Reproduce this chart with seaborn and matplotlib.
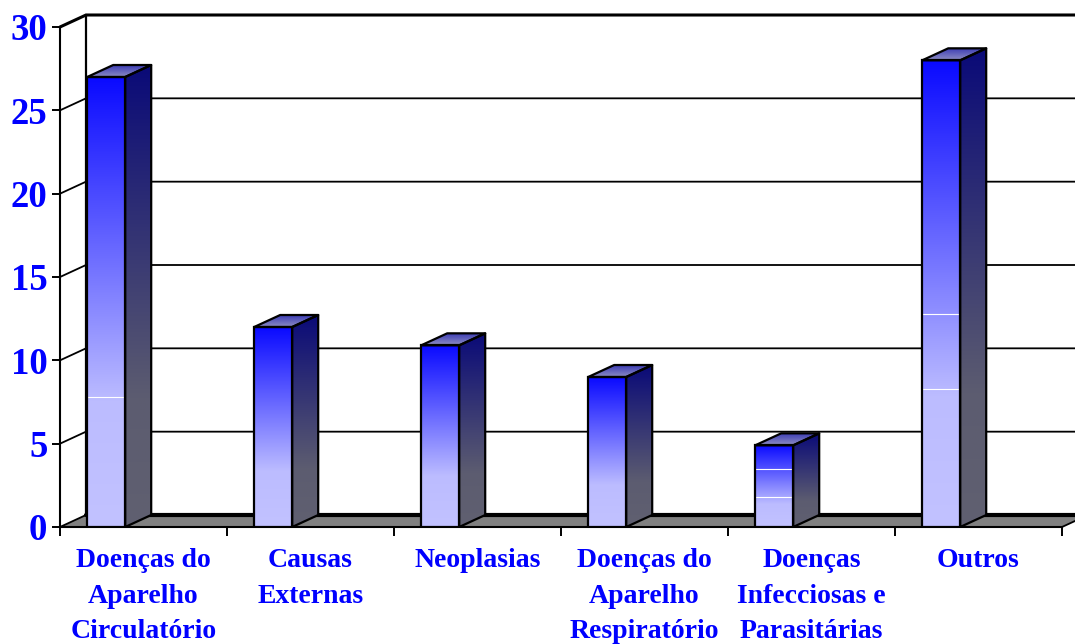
import numpy as np
import pandas as pd
import matplotlib
matplotlib.use('Agg')
import matplotlib.pyplot as plt
from matplotlib.colors import LinearSegmentedColormap
from matplotlib.patches import Polygon
import seaborn as sns

categorias = ['Doenças do\nAparelho\nCirculatório', 'Causas\nExternas', 'Neoplasias',
              'Doenças do\nAparelho\nRespiratório', 'Doenças\nInfecciosas e\nParasitárias', 'Outros']
valores = [27.0, 12.0, 10.9, 9.0, 4.9, 28.0]
y_ticks = [0, 5, 10, 15, 20, 25, 30]

# thin white streaks that show up in the gradient of some bars
riscos_x = [0, 4, 4, 5, 5]
riscos_y = [7.8, 1.8, 3.5, 8.3, 12.8]

AZUL = '#0000ff'
W, H = 1075, 644
px_x, px_y = 1 / 167, 30 / 500   # data units for one pixel
dx, dy = 26 * px_x, 12 * px_y    # depth of the 3d box

sns.set_theme(style='white')
plt.rcParams['font.family'] = ['Liberation Serif', 'DejaVu Serif']
plt.rcParams['font.weight'] = 'bold'

df = pd.DataFrame({'causa': categorias, 'valor': valores})

fig = plt.figure(figsize=(W / 100, H / 100), dpi=100)
ax = fig.add_axes([60 / W, 1 - 527 / H, 1002 / W, 500 / H])

frente = LinearSegmentedColormap.from_list('frente', [(0, '#0a0aff'), (0.72, '#bcbcff'), (1, '#c2c2ff')])
lado = LinearSegmentedColormap.from_list('lado', [(0, '#0a0a78'), (0.72, '#5c5c70'), (1, '#606070')])
tampa = LinearSegmentedColormap.from_list('tampa', [(0, '#3c3cb4'), (1, '#8c8cc4')])
degrade = np.linspace(0, 1, 256).reshape(-1, 1)

sns.barplot(data=df, x='causa', y='valor', width=38 * px_x, fill=False, color='black',
            linewidth=1.6, saturation=1, errorbar=None, ax=ax, zorder=6)
for b in ax.patches:
    b.set_edgecolor('black')


def pinta(cmap, x0, x1, y0, y1, contorno):
    # gradient image cut to the shape of a face, top of the image at y1
    im = ax.imshow(degrade, cmap=cmap, extent=(x0, x1, y0, y1), origin='upper', aspect='auto', zorder=4)
    pol = Polygon(contorno, closed=True, fc='none', ec='black', lw=1.6, zorder=5, joinstyle='round')
    ax.add_patch(pol)
    im.set_clip_path(pol)


for b in list(ax.patches):
    x0, x1, v = b.get_x(), b.get_x() + b.get_width(), b.get_height()
    ax.imshow(degrade, cmap=frente, extent=(x0, x1, 0, v), origin='upper', aspect='auto', zorder=4)
    pinta(lado, x1, x1 + dx, 0, v + dy,
          [(x1, 0), (x1 + dx, dy), (x1 + dx, v + dy), (x1, v)])
    pinta(tampa, x0, x1 + dx, v, v + dy,
          [(x0, v), (x1, v), (x1 + dx, v + dy), (x0 + dx, v + dy)])

for i, r in zip(riscos_x, riscos_y):
    b = ax.patches[i]
    ax.hlines(r, b.get_x(), b.get_x() + b.get_width(), color='white', lw=0.8, zorder=5)

esq = -46.2 * px_x
dir_ = esq + 6
ax.set_xlim(esq, dir_)
ax.set_ylim(0, 30)

# floor and back wall
ax.add_patch(Polygon([(esq, 0), (dir_, 0), (dir_ + dx, dy), (esq + dx, dy)], closed=True,
                     fc='#808080', ec='none', clip_on=False, zorder=1))
for v in y_ticks:
    lw = 2.2 if v == 30 else 1.3
    ax.plot([esq, esq + dx, dir_ + dx], [v, v + dy, v + dy], color='black', lw=lw,
            clip_on=False, zorder=2, solid_joinstyle='miter')
ax.plot([esq + dx, dir_ + dx], [dy, dy], color='black', lw=3, clip_on=False, zorder=2)
ax.plot([esq + dx, esq + dx], [dy, 30 + dy], color='black', lw=1.6, clip_on=False, zorder=2)
ax.plot([dir_, dir_ + dx], [0, dy], color='black', lw=1.3, clip_on=False, zorder=2)

for lado_ax in ['top', 'right']:
    ax.spines[lado_ax].set_visible(False)
for lado_ax in ['left', 'bottom']:
    ax.spines[lado_ax].set_color('black')
    ax.spines[lado_ax].set_linewidth(1.5)
    ax.spines[lado_ax].set_zorder(3)

ax.set_xlabel('')
ax.set_ylabel('')
ax.set_xticks(esq + np.arange(7), [''] * 7)
ax.set_xticks(esq + 0.5 + np.arange(6), categorias, minor=True)
ax.set_yticks(y_ticks, [str(v) for v in y_ticks])
ax.tick_params(axis='x', which='major', bottom=True, length=6.5, width=1.4, color='black')
ax.tick_params(axis='x', which='minor', bottom=True, length=0, pad=15, labelsize=20, labelcolor=AZUL)
ax.tick_params(axis='y', left=True, length=6, width=1.4, color='black', pad=3, labelsize=26.5, labelcolor=AZUL)
for t in ax.get_xticklabels(minor=True):
    t.set_linespacing(1.57)
    t.set_fontweight('bold')
for t in ax.get_yticklabels():
    t.set_fontweight('bold')

fig.savefig('out.png', dpi=100, facecolor='white')
